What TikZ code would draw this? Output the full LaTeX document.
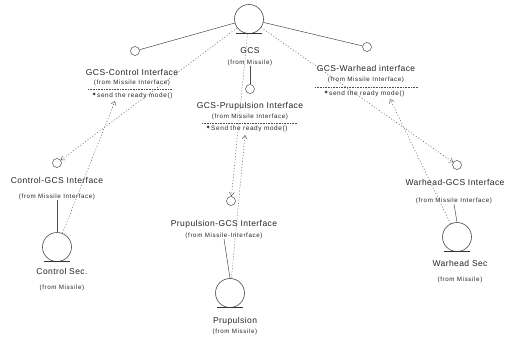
\documentclass[tikz,border=0pt]{standalone}
\usepackage{fontspec}
\setmainfont{Liberation Sans}
\newfontfamily\namefont[LetterSpace=5]{Liberation Sans}
\newfontfamily\notefont[LetterSpace=10]{Liberation Sans}
\usetikzlibrary{arrows.meta}
\begin{document}
\begin{tikzpicture}[x=1pt,y=-1pt,
  classicon/.style={circle, draw=black!70, line width=0.6pt, minimum size=29pt, inner sep=0},
  lolly/.style={circle, draw=black!70, line width=0.5pt, minimum size=9pt, inner sep=0},
  cname/.style={font=\namefont\fontsize{8.5}{10}\selectfont, text=black!85, inner sep=0},
  cfrom/.style={font=\notefont\fontsize{6.2}{7}\selectfont, text=black!85, inner sep=0},
  cop/.style={font=\notefont\fontsize{6.4}{7}\selectfont, text=black!85, inner sep=0},
  realize/.style={draw=black!70, line width=0.5pt},
  depend/.style={draw=black!65, line width=0.5pt, dash pattern=on 1pt off 2pt,
                 -{Straight Barb[length=3.5pt,width=5pt]}},
  underbar/.style={draw=black!80, line width=1.1pt},
  sepline/.style={draw=black!70, line width=0.5pt, dash pattern=on 1pt off 0.6pt},
  opicon/.style={circle, fill=black!75, minimum size=3pt, inner sep=0},
]
\useasboundingbox (0,0) rectangle (508,342);
\fill[white] (0,0) rectangle (508,342);

% ---- GCS class and its three provided interfaces
\node[classicon] (gcs) at (249,19) {};
\draw[underbar] ([xshift=-13pt]gcs.south) -- ([xshift=13pt]gcs.south);
\node[cname] (gcsname) at (250,51) {GCS};
\node[cfrom] (gcsfrom) at (250,63) {(from Missile)};

\node[lolly] (lolL) at (135,51) {};
\node[lolly] (lolM) at (250,89) {};
\node[lolly] (lolR) at (367,47) {};

% GCS-Control Interface
\node[cname] (gciName) at (132,72) {GCS-Control Interface};
\node[cfrom] (gciFrom) at (132,83) {(from Missile Interface)};
\draw[sepline] (88,89) -- (172,89);
\node[opicon] (gciIcon) at (94,94) {};
\node[cop, anchor=west] (gciOp) at (97,95.5) {send the ready mode()};
\coordinate (tipL) at (115,101);

% GCS-Prupulsion Interface
\node[cname] (gpiName) at (250,106) {GCS-Prupulsion Interface};
\node[cfrom] (gpiFrom) at (250,117) {(from Missile Interface)};
\draw[sepline] (202,123) -- (298,123);
\node[opicon] (gpiIcon) at (208,127) {};
\node[cop, anchor=west] (gpiOp) at (211,128.5) {Send the ready mode()};
\coordinate (tipM) at (245,135);

% GCS-Warhead interface
\node[cname] (gwiName) at (366,68) {GCS-Warhead interface};
\node[cfrom] (gwiFrom) at (366,80) {(from Missile Interface)};
\draw[sepline] (315,87) -- (418,87);
\node[opicon] (gwiIcon) at (326,92) {};
\node[cop, anchor=west] (gwiOp) at (329,93.5) {send the ready mode()};
\coordinate (tipR) at (390,99);

% ---- Control Sec
\node[lolly] (lolCG) at (57,163) {};
\node[cname] (cgiName) at (57,180) {Control-GCS Interface};
\node[cfrom] (cgiFrom) at (57,197) {(from Missile Interface)};
\node[classicon] (ctrl) at (57,247) {};
\draw[underbar] ([xshift=-13pt]ctrl.south) -- ([xshift=13pt]ctrl.south);
\node[cname] (ctrlName) at (62,271) {Control Sec.};
\node[cfrom] (ctrlFrom) at (62,288) {(from Missile)};

% ---- Prupulsion
\node[lolly] (lolPG) at (231,201) {};
\node[cname] (pgiName) at (224,224) {Prupulsion-GCS Interface};
\node[cfrom] (pgiFrom) at (224,236) {(from Missile-Interface)};
\node[classicon] (prup) at (230,293) {};
\draw[underbar] ([xshift=-13pt]prup.south) -- ([xshift=13pt]prup.south);
\node[cname] (prupName) at (235,321) {Prupulsion};
\node[cfrom] (prupFrom) at (235,332) {(from Missile)};

% ---- Warhead Sec
\node[lolly] (lolWG) at (457,165) {};
\node[cname] (wgiName) at (455,182) {Warhead-GCS Interface};
\node[cfrom] (wgiFrom) at (454,201) {(from Missile Interface)};
\node[classicon] (warh) at (457,237) {};
\draw[underbar] ([xshift=-13pt]warh.south) -- ([xshift=13pt]warh.south);
\node[cname] (warhName) at (460,263) {Warhead Sec};
\node[cfrom] (warhFrom) at (460,280) {(from Missile)};

% ---- realizations (lollipop links)
\draw[realize] (gcs) -- (lolL);
\draw[realize] (gcs) -- (lolR);
\draw[realize] (gcsfrom.south) -- (lolM);
\draw[realize] (ctrl.north) -- (cgiFrom.south);
\draw[realize] (prup.north) -- (pgiFrom.south);
\draw[realize] (warh.north) -- (wgiFrom.south);

% ---- dependencies
\draw[depend] (gcs) -- (lolCG);
\draw[depend] (gcs) -- (lolPG);
\draw[depend] (gcs) -- (lolWG);
\draw[depend] (ctrl) -- (tipL);
\draw[depend] (prup) -- (tipM);
\draw[depend] (warh) -- (tipR);
\end{tikzpicture}
\end{document}
